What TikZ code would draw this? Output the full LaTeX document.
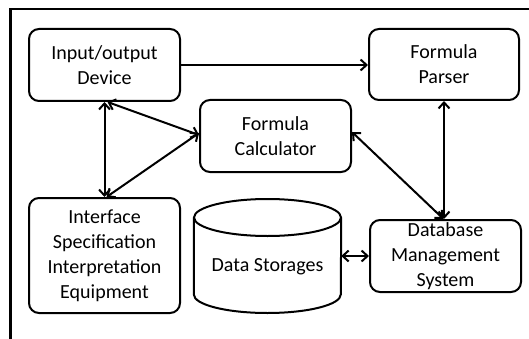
\documentclass[tikz,border=0pt]{standalone}
\usepackage{fontspec}
\setmainfont{Carlito}
\usetikzlibrary{arrows.meta}
\begin{document}
\begin{tikzpicture}[x=1pt,y=-1pt,
  box/.style={draw,line width=2pt,rounded corners=10pt,inner sep=0pt,align=center,
    minimum width=151pt,minimum height=72pt,font=\fontsize{20}{25}\selectfont},
  conn/.style={line width=2pt,{Straight Barb[length=6pt,width=11pt]}-{Straight Barb[length=6pt,width=11pt]}},
  oneway/.style={line width=2pt,-{Straight Barb[length=6pt,width=11pt]}}]
\useasboundingbox (0,0) rectangle (529,339);
\fill[white] (0,0) rectangle (529,339);
\draw[line width=2.5pt] (10.5,339) -- (10.5,9) -- (529,9);

\node[box] (io) at (104.5,65) {Input/output\\Device};
\node[box,minimum width=150pt,minimum height=71pt] (fp) at (444,64.5) {Formula\\Parser};
\node[box] (fc) at (275.5,136) {Formula\\Calculator};
\node[box,minimum height=115pt] (isi) at (104.5,255.5) {Interface\\Specification\\Interpretation\\Equipment};
\node[box] (dbms) at (445.5,256) {Database\\Management\\System};
\node[inner sep=0pt,minimum width=147pt,minimum height=114pt,font=\fontsize{20}{25}\selectfont] (ds) at (267.5,256) {\raisebox{-11pt}[\height][\depth]{Data Storages}};

% cylinder
\draw[line width=2pt] (ds.west |- 0,217.5) -- (ds.west |- 0,294.5)
  arc[start angle=180,end angle=360,x radius=73.5pt,y radius=18.5pt]
  -- (ds.east |- 0,217.5);
\draw[line width=2pt] (ds.center |- 0,217.5) ellipse [x radius=73.5pt,y radius=18.5pt];

% connectors
\draw[oneway] (io.east) -- (io.east -| fp.west);
\draw[conn] ([xshift=3pt]io.south) -- ([yshift=1pt]fc.west);
\draw[conn] (io.south) -- (isi.north);
\draw[conn] ([yshift=3pt]fc.west) -- ([xshift=2pt]isi.north);
\draw[conn] (fp.south) -- (fp.south |- dbms.north);
\draw[conn] ([yshift=4pt]fc.east) -- ([xshift=-2pt]dbms.north);
\draw[conn] (ds.east) -- (dbms.west);
\end{tikzpicture}
\end{document}
